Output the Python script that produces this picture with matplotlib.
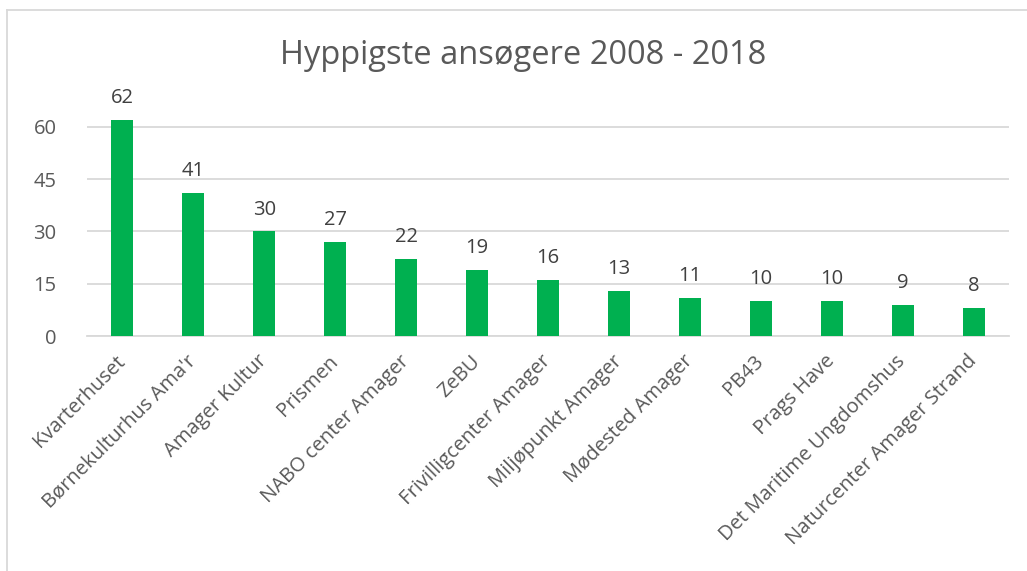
import numpy as np
import matplotlib
matplotlib.use("Agg")
import matplotlib.pyplot as plt
import matplotlib.transforms as mtransforms
from matplotlib.lines import Line2D

# data
categories = ["Kvarterhuset", "Børnekulturhus Ama'r", "Amager Kultur", "Prismen",
              "NABO center Amager", "ZeBU", "Frivilligcenter Amager",
              "Miljøpunkt Amager", "Mødested Amager", "PB43", "Prags Have",
              "Det Maritime Ungdomshus", "Naturcenter Amager Strand"]
counts = [62, 41, 30, 27, 22, 19, 16, 13, 11, 10, 10, 9, 8]
y_ticks = [0, 15, 30, 45, 60]
title = "Hyppigste ansøgere 2008 - 2018"

plt.rcParams['font.family'] = ['Open Sans', 'DejaVu Sans']
txt_col = '#595959'
bar_col = '#00B050'
grid_col = '#D9D9D9'

fig = plt.figure(figsize=(10.27, 5.71), dpi=100)
ax = fig.add_axes([87/1027, 1 - 336/571, (1009 - 87)/1027, 244/571])

x = np.arange(len(categories))
bars = ax.bar(x, counts, width=0.31, color=bar_col, zorder=3)
for xi, v in zip(x, counts):
    ax.text(xi, v + 3.4, str(v), ha='center', va='bottom', fontsize=14.5, color='#404040')

ax.set_xlim(-0.5, len(categories) - 0.5)
ax.set_ylim(0, 70)
ax.set_yticks(y_ticks)
ax.yaxis.grid(True, color=grid_col, linewidth=1.3, zorder=0)
ax.tick_params(axis='y', length=0, labelsize=14.5, labelcolor=txt_col, pad=22)
ax.tick_params(axis='x', length=0, pad=11)
ax.set_xticks(x)
ax.set_xticklabels(categories, rotation=45, ha='right', rotation_mode='anchor',
                   fontsize=14.5, color=txt_col)
shift = mtransforms.ScaledTranslation(-7/100, 0, fig.dpi_scale_trans)
for lbl in ax.get_xticklabels():
    lbl.set_transform(lbl.get_transform() + shift)
for s in ['top', 'right', 'left']:
    ax.spines[s].set_visible(False)
ax.spines['bottom'].set_color(grid_col)
ax.spines['bottom'].set_linewidth(1.3)

fig.text(523/1027, 1 - 55/571, title, ha='center', va='center', fontsize=23.5, color=txt_col)

# chart frame (only top and left edges visible)
fig.add_artist(Line2D([7/1027, 7/1027], [0, 1 - 10/571], transform=fig.transFigure,
                      color=grid_col, linewidth=1.3))
fig.add_artist(Line2D([7/1027, 1], [1 - 10/571, 1 - 10/571], transform=fig.transFigure,
                      color=grid_col, linewidth=1.3))

fig.savefig("out.png", dpi=100)
